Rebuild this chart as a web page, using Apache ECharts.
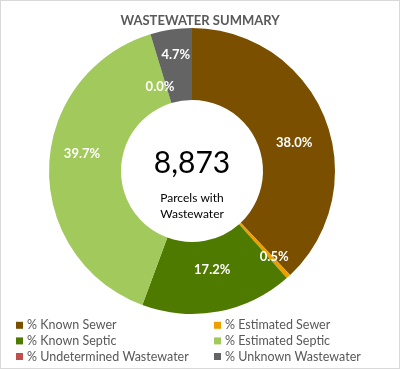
<!DOCTYPE html>
<html><head><meta charset="utf-8">
<script src="https://cdn.jsdelivr.net/npm/echarts@6/dist/echarts.min.js"></script>
<style>html,body{margin:0;padding:0;background:#fff}#c{width:398px;height:367px;border:1px solid #d9d9d9}</style>
</head><body><div id="c"></div>
<script>
const titleText = 'WASTEWATER SUMMARY';
const categories = ['% Known Sewer','% Estimated Sewer','% Known Septic','% Estimated Septic','% Undetermined Wastewater','% Unknown Wastewater'];
const values = [38.0, 0.5, 17.2, 39.7, 0.0, 4.7];
const colors = ['#7A4F00','#EE9F00','#4E7A00','#A2C95C','#C0504D','#646464'];
const totalParcels = '8,873';
const centerCaption = ['Parcels with','Wastewater'];
const labelShift = [[0,12],[8,5],[0,-9],[0,-14],[0,21],[0,-7]];

const font = 'Lato, "Open Sans", sans-serif';
const legendCommon = {orient:'vertical', top:317, padding:0, itemWidth:7, itemHeight:7, itemGap:1, icon:'rect',
  textStyle:{fontFamily:font, fontSize:12.5, lineHeight:14.6, color:'#595959', padding:[0,0,0,-1]}};
const chart = echarts.init(document.getElementById('c'));
chart.setOption({
  animation:false,
  color: colors,
  title: {text:titleText, left:'center', top:8, textStyle:{fontFamily:font, fontSize:13, fontWeight:'bold', color:'#595959'}},
  legend: [
    Object.assign({left:15, data:[categories[0],categories[2],categories[4]]}, legendCommon),
    Object.assign({left:213, data:[categories[1],categories[3],categories[5]]}, legendCommon)
  ],
  graphic: [
    {type:'text', position:[191,162], style:{text:totalParcels, textAlign:'center', textVerticalAlign:'middle', font:'30px '+font, fill:'#000'}},
    {type:'text', position:[191,205], style:{text:centerCaption.join('\n'), textAlign:'center', textVerticalAlign:'middle', font:'12px '+font, fill:'#000', lineHeight:16}}
  ],
  series: [{
    type:'pie',
    center:[191,170],
    radius:[71,143],
    startAngle:90,
    clockwise:true,
    avoidLabelOverlap:false,
    label:{show:true, position:'inside', formatter: p => p.value.toFixed(1)+'%', color:'#fff', fontFamily:font, fontWeight:'bold', fontSize:13},
    labelLine:{show:false},
    labelLayout: p => ({dx: labelShift[p.dataIndex][0], dy: labelShift[p.dataIndex][1]}),
    emphasis:{disabled:true},
    itemStyle:{borderWidth:0},
    data: categories.map((n,i)=>({name:n, value:values[i]}))
  }]
});
</script></body></html>
